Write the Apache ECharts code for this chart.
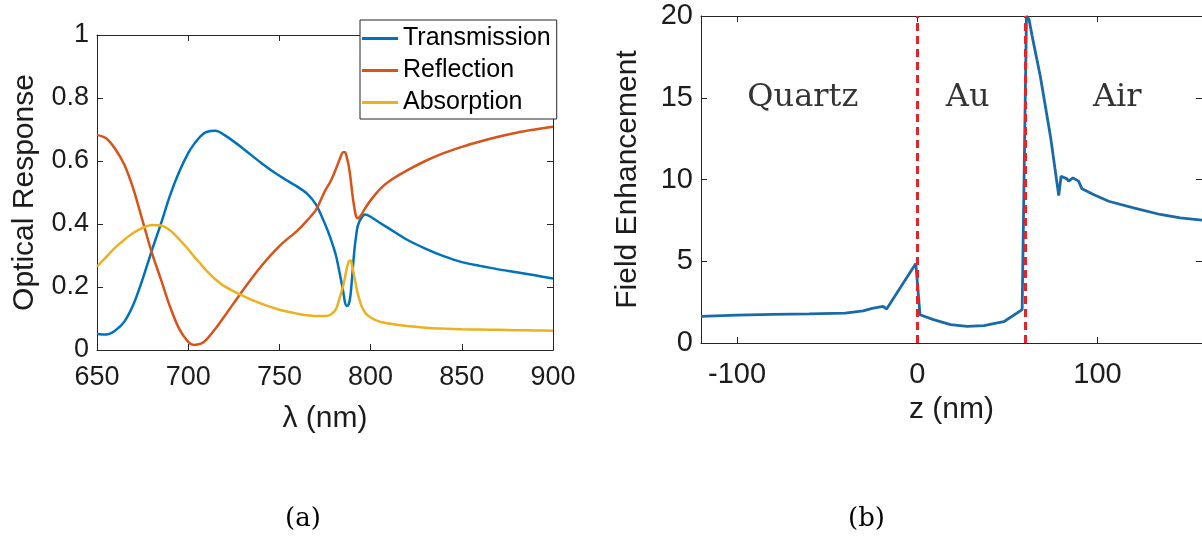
<!DOCTYPE html>
<html>

<head>
  <meta charset="utf-8" />
  <script src="https://cdn.jsdelivr.net/npm/echarts@6/dist/echarts.min.js"></script>
  <style>
    html, body { margin: 0; padding: 0; background: #fff; }
    #chart { width: 1202px; height: 537px; }
  </style>
</head>

<body>
  <div id="chart"></div>
  <script type="text/javascript">
    // (a) optical response vs wavelength
    const wavelength = [650, 655, 660, 665, 670, 675, 680, 685, 690, 695, 700, 703, 707, 710, 715, 720, 730, 740, 750, 760, 765,
      770, 775, 778, 781, 783, 785, 786, 787, 788, 789, 790, 791, 792, 793, 795, 797, 800, 805, 810, 820,
      830, 840, 850, 860, 870, 880, 890, 900];
    const transmission = [0.051, 0.049, 0.062, 0.09, 0.145, 0.225, 0.315, 0.40, 0.49, 0.565, 0.625, 0.652, 0.68, 0.692, 0.696, 0.682, 0.64, 0.594, 0.553, 0.518, 0.497,
      0.462, 0.40, 0.355, 0.30, 0.245, 0.185, 0.15, 0.14, 0.145, 0.175, 0.24, 0.31, 0.36, 0.395, 0.42, 0.43, 0.423, 0.404, 0.386, 0.35,
      0.322, 0.298, 0.279, 0.267, 0.256, 0.247, 0.237, 0.227];
    const reflection = [0.683, 0.672, 0.638, 0.588, 0.51, 0.41, 0.31, 0.225, 0.138, 0.068, 0.026, 0.016, 0.02, 0.033, 0.068, 0.108, 0.19, 0.266, 0.33, 0.38, 0.41,
      0.445, 0.505, 0.535, 0.575, 0.605, 0.628, 0.628, 0.61, 0.585, 0.545, 0.495, 0.455, 0.425, 0.418, 0.43, 0.45, 0.475, 0.51, 0.535, 0.57,
      0.60, 0.625, 0.645, 0.662, 0.677, 0.69, 0.70, 0.709];
    const absorption = [0.265, 0.295, 0.325, 0.35, 0.372, 0.388, 0.397, 0.395, 0.38, 0.352, 0.32, 0.298, 0.272, 0.252, 0.224, 0.202, 0.172, 0.147, 0.128, 0.115, 0.11,
      0.108, 0.108, 0.112, 0.13, 0.165, 0.205, 0.232, 0.26, 0.28, 0.284, 0.265, 0.235, 0.205, 0.178, 0.14, 0.118, 0.103, 0.09, 0.084, 0.076,
      0.071, 0.068, 0.066, 0.065, 0.064, 0.063, 0.062, 0.061];
    const seriesNames = ["Transmission", "Reflection", "Absorption"];

    // (b) field enhancement vs z
    const zPos = [-120, -100, -80, -60, -40, -30, -25, -19, -17, -0.8, 1.5, 9, 18.5, 27.7, 37, 42.4, 48, 58.2,
      60.6, 62, 63.7, 68.3, 73.9, 78.5, 79.8, 83.1, 84, 86.4, 89.5, 91.4, 97.8, 106.2, 120, 134.8, 145.9, 158];
    const enhancement = [1.63, 1.71, 1.75, 1.78, 1.83, 1.97, 2.12, 2.24, 2.08, 4.86, 1.73, 1.43, 1.12, 1.02, 1.06, 1.18, 1.3, 2.04,
      20, 19.8, 18.8, 16.3, 12.65, 9.02, 10.2, 10.04, 9.9, 10.1, 9.9, 9.43, 9.08, 8.67, 8.27, 7.86, 7.65, 7.51];
    const interfaces = [0, 60];
    const regionNames = ["Quartz", "Au", "Air"];
    const regionZ = [-63.5, 28, 111];
    const regionY = [15.0, 15.0, 15.0];
    const zTicks = [-100, 0, 100];

    const colors = ["#0072BD", "#D95319", "#EDB120"];
    const axisColor = "#262626";
    const textColor = "#1c1c1c";
    const sans = "Liberation Sans";
    const serif = "DejaVu Serif";

    const chart = echarts.init(document.getElementById("chart"));

    function boxAxis(extra, labels, fontSize, margin) {
      return Object.assign({
        type: "value",
        axisLine: { show: true, onZero: false, lineStyle: { color: axisColor, width: 1 } },
        axisTick: { show: true, inside: true, length: 6, lineStyle: { color: axisColor } },
        axisLabel: { show: labels, color: textColor, fontSize: fontSize, fontFamily: sans, margin: margin || 8 },
        splitLine: { show: false }
      }, extra);
    }

    const zBottom = boxAxis({
      gridIndex: 1, position: "bottom", min: -120, max: 158,
      name: "z (nm)", nameLocation: "middle", nameGap: 52,
      nameTextStyle: { fontSize: 30, fontFamily: sans, color: textColor }
    }, true, 29, 17);
    zBottom.axisLabel.customValues = zTicks;
    zBottom.axisTick.customValues = zTicks;
    const zTop = boxAxis({ gridIndex: 1, position: "top", min: -120, max: 158 }, false, 29);
    zTop.axisLabel.customValues = zTicks;
    zTop.axisTick.customValues = zTicks;

    const option = {
      animation: false,
      color: colors,
      grid: [
        { left: 97, top: 35, width: 456, height: 315 },
        { left: 701, top: 16, width: 501, height: 327 }
      ],
      legend: {
        data: seriesNames,
        orient: "vertical",
        left: 360,
        top: 20,
        icon: "rect",
        itemWidth: 36,
        itemHeight: 3,
        itemGap: 7,
        itemTextGap: 4,
        padding: [6, 6, 4, 2],
        borderColor: axisColor,
        borderWidth: 1,
        backgroundColor: "#fff",
        textStyle: { fontSize: 25, fontFamily: sans, color: "#000", lineHeight: 25 }
      },
      xAxis: [
        boxAxis({
          gridIndex: 0, position: "bottom", min: 650, max: 900, interval: 50,
          name: "λ (nm)", nameLocation: "middle", nameGap: 54,
          nameTextStyle: { fontSize: 30, fontFamily: sans, color: textColor }
        }, true, 27, 14),
        boxAxis({ gridIndex: 0, position: "top", min: 650, max: 900, interval: 50 }, false, 27),
        zBottom,
        zTop
      ],
      yAxis: [
        boxAxis({
          gridIndex: 0, position: "left", min: 0, max: 1, interval: 0.2,
          name: "Optical Response", nameLocation: "middle", nameGap: 57,
          nameTextStyle: { fontSize: 30, fontFamily: sans, color: textColor }
        }, true, 27),
        boxAxis({ gridIndex: 0, position: "right", min: 0, max: 1, interval: 0.2 }, false, 27),
        boxAxis({
          gridIndex: 1, position: "left", min: 0, max: 20, interval: 5,
          name: "Field Enhancement", nameLocation: "middle", nameGap: 58,
          nameTextStyle: { fontSize: 30, fontFamily: sans, color: textColor }
        }, true, 29),
        boxAxis({ gridIndex: 1, position: "right", min: 0, max: 20, interval: 5 }, false, 29)
      ],
      series: [
        ...[transmission, reflection, absorption].map((vals, i) => ({
          name: seriesNames[i],
          type: "line",
          xAxisIndex: 0,
          yAxisIndex: 0,
          data: wavelength.map((w, k) => [w, vals[k]]),
          showSymbol: false,
          smooth: 0.3,
          lineStyle: { width: 2.5, color: colors[i] },
          itemStyle: { color: colors[i] }
        })),
        {
          name: "field",
          type: "line",
          xAxisIndex: 2,
          yAxisIndex: 2,
          data: zPos.map((z, k) => [z, enhancement[k]]),
          showSymbol: false,
          lineStyle: { width: 2.8, color: "#1a6aa8" },
          markLine: {
            silent: true,
            symbol: "none",
            label: { show: false },
            lineStyle: { color: "#e0262c", width: 3, type: [8, 5] },
            data: interfaces.map(z => ({ xAxis: z }))
          }
        },
        {
          name: "regions",
          type: "scatter",
          xAxisIndex: 2,
          yAxisIndex: 2,
          symbolSize: 0,
          data: regionNames.map((n, k) => ({ name: n, value: [regionZ[k], regionY[k]] })),
          label: {
            show: true,
            position: "inside",
            formatter: p => p.name,
            fontFamily: serif,
            fontSize: 32,
            color: "#000",
            textBorderWidth: 0
          }
        }
      ],
      graphic: [
        { type: "text", left: 303 - 18, top: 506, style: { text: "(a)", font: "26px 'DejaVu Serif'", fill: "#000" } },
        { type: "text", left: 866 - 18, top: 506, style: { text: "(b)", font: "26px 'DejaVu Serif'", fill: "#000" } }
      ]
    };

    chart.setOption(option);

    window.onresize = () => {
      chart?.resize();
    };
  </script>
</body>

</html>
